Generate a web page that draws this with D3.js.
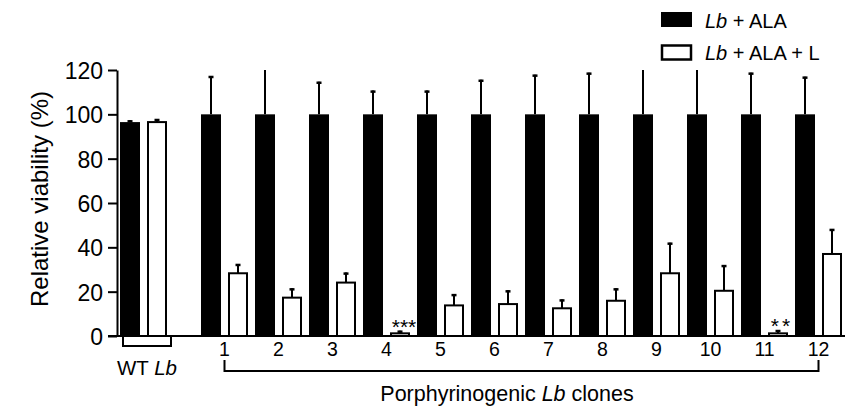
<!DOCTYPE html>
<html>
<head>
<meta charset="utf-8">
<script src="https://cdn.jsdelivr.net/npm/d3@7"></script>
<style>
  body { margin: 0; background: #fff; }
  svg { display: block; font-family: "Liberation Sans", Arial, sans-serif; }
</style>
</head>
<body>
<svg width="848" height="415"></svg>
<script>
const svg = d3.select("svg");

// groups: WT first, then the 12 porphyrinogenic clones
const groupLabels = ["WT", "1", "2", "3", "4", "5", "6", "7", "8", "9", "10", "11", "12"];
const alaMean = [96.5, 100, 100, 100, 100, 100, 100, 100, 100, 100, 100, 100, 100];
const alaSD = [0.8, 17.3, 22, 14.7, 10.7, 10.7, 15.6, 17.9, 18.8, 22, 22, 18.8, 17.0];
const alaLMean = [96.5, 28.3, 17.3, 24.1, 1.2, 13.8, 14.4, 12.5, 15.9, 28.3, 20.4, 1.2, 37.0];
const alaLSD = [1.4, 4.2, 4.2, 4.5, 1.2, 5.1, 6.2, 4.0, 5.6, 13.8, 11.6, 1.5, 11.3];
const sigLabels = ["", "", "", "", "***", "", "", "", "", "", "", "**", ""];
const yTicks = [0, 20, 40, 60, 80, 100, 120];

const series = [
    {name: "ALA", mean: alaMean, sd: alaSD, fill: "#000"},
    {name: "ALA+L", mean: alaLMean, sd: alaLSD, fill: "#fff"}
];

const y = d3.scaleLinear().domain([0, 120]).range([336, 70]);
// clones sit at 1..12, WT is pushed left to -0.5
const x = d3.scaleLinear().domain([1, 12]).range([201, 795]);
const groupX = i => x(i === 0 ? -0.5 : i);
const barW = 20, offset = 27;

svg.append("defs").append("clipPath").attr("id", "plot")
    .append("rect")
        .attr("x", 0).attr("y", y(120))
        .attr("width", 848).attr("height", y(0) - y(120) + 1);

const plot = svg.append("g").attr("clip-path", "url(#plot)");

series.forEach((s, si) => {
    const g = plot.append("g");
    const idx = d3.range(groupLabels.length);

    // error bars (drawn first so bar outline sits on top)
    g.selectAll("line.err")
        .data(idx)
        .enter().append("line")
            .attr("x1", i => groupX(i) + si * offset + barW / 2)
            .attr("x2", i => groupX(i) + si * offset + barW / 2)
            .attr("y1", i => y(s.mean[i]))
            .attr("y2", i => y(s.mean[i] + s.sd[i]))
            .attr("stroke", "#000")
            .attr("stroke-width", 2);
    g.selectAll("line.cap")
        .data(idx)
        .enter().append("line")
            .attr("x1", i => groupX(i) + si * offset + barW / 2 - 2.5)
            .attr("x2", i => groupX(i) + si * offset + barW / 2 + 2.5)
            .attr("y1", i => y(s.mean[i] + s.sd[i]) + 1)
            .attr("y2", i => y(s.mean[i] + s.sd[i]) + 1)
            .attr("stroke", "#000")
            .attr("stroke-width", 2.5);

    g.selectAll("rect")
        .data(idx)
        .enter().append("rect")
            .attr("x", i => groupX(i) + si * offset + (si ? 1 : 0))
            .attr("y", i => y(s.mean[i]))
            .attr("width", si ? barW - 2 : barW)
            .attr("height", i => y(0) - y(s.mean[i]))
            .attr("fill", s.fill)
            .attr("stroke", si ? "#000" : "none")
            .attr("stroke-width", 2);
});

// significance stars over the ALA + L bars
svg.append("g")
    .selectAll("text")
    .data(d3.range(groupLabels.length).filter(i => sigLabels[i]))
    .enter().append("text")
        .attr("x", i => groupX(i) + offset + barW / 2 + 4)
        .attr("y", i => y(alaLMean[i] + alaLSD[i]) + 3)
        .attr("text-anchor", "middle")
        .attr("font-size", 21)
        .attr("letter-spacing", i => sigLabels[i].length === 2 ? 3 : 0)
        .text(i => sigLabels[i]);

// y axis
const yAxis = svg.append("g")
    .attr("transform", "translate(117,0)")
    .call(d3.axisLeft(y).tickValues(yTicks).tickSize(9).tickSizeOuter(0).tickPadding(5));
yAxis.selectAll("path, line").attr("stroke", "#000").attr("stroke-width", 2);
yAxis.selectAll("text")
    .attr("font-size", 23)
    .attr("font-family", "Liberation Sans, Arial, sans-serif")
    .attr("fill", "#000")
    .attr("dy", "0.37em");

// baseline
svg.append("line")
    .attr("x1", 108).attr("x2", 845)
    .attr("y1", y(0)).attr("y2", y(0))
    .attr("stroke", "#000").attr("stroke-width", 2);

svg.append("text")
    .attr("transform", `translate(48,${(y(0) + y(120)) / 2 - 4}) rotate(-90)`)
    .attr("text-anchor", "middle")
    .attr("font-size", 24)
    .text("Relative viability (%)");

// clone number labels
svg.append("g")
    .selectAll("text")
    .data(d3.range(1, groupLabels.length))
    .enter().append("text")
        .attr("x", i => groupX(i) + (offset + barW) / 2)
        .attr("y", 356)
        .attr("text-anchor", "middle")
        .attr("font-size", 19.5)
        .text(i => groupLabels[i]);

// WT bracket and label
const wtL = groupX(0) + 3, wtR = groupX(0) + offset + barW + 4;
svg.append("path")
    .attr("d", `M${wtL},${y(0)} V346 H${wtR} V${y(0) - 1}`)
    .attr("fill", "none").attr("stroke", "#000").attr("stroke-width", 2);
const wt = svg.append("text")
    .attr("x", (wtL + wtR) / 2)
    .attr("y", 375)
    .attr("text-anchor", "middle")
    .attr("font-size", 20.5);
wt.append("tspan").text("WT ");
wt.append("tspan").attr("font-style", "italic").text("Lb");

// clones bracket and label
const cL = groupX(1) + (offset + barW) / 2, cR = groupX(12) + (offset + barW) / 2;
svg.append("path")
    .attr("d", `M${cL},360 V371 H${cR} V360`)
    .attr("fill", "none").attr("stroke", "#000").attr("stroke-width", 2);
const ct = svg.append("text")
    .attr("x", 507)
    .attr("y", 401)
    .attr("text-anchor", "middle")
    .attr("font-size", 21.5);
ct.append("tspan").text("Porphyrinogenic ");
ct.append("tspan").attr("font-style", "italic").text("Lb");
ct.append("tspan").text(" clones");

// legend
const legendNames = [" + ALA", " + ALA + L"];
const legend = svg.append("g")
    .selectAll("g")
    .data(series)
    .enter().append("g")
        .attr("transform", (d, i) => `translate(661,${12 + i * 32})`);
legend.append("rect")
    .attr("x", (d, i) => i ? 1 : 0)
    .attr("y", (d, i) => i ? 1.5 : 0)
    .attr("width", (d, i) => i ? 29 : 31)
    .attr("height", (d, i) => i ? 14 : 15)
    .attr("fill", d => d.fill)
    .attr("stroke", (d, i) => i ? "#000" : "none")
    .attr("stroke-width", 2.5);
const lt = legend.append("text")
    .attr("x", 44)
    .attr("y", 16)
    .attr("font-size", 20);
lt.append("tspan").attr("font-style", "italic").text("Lb");
lt.append("tspan").text((d, i) => legendNames[i]);
</script>
</body>
</html>
